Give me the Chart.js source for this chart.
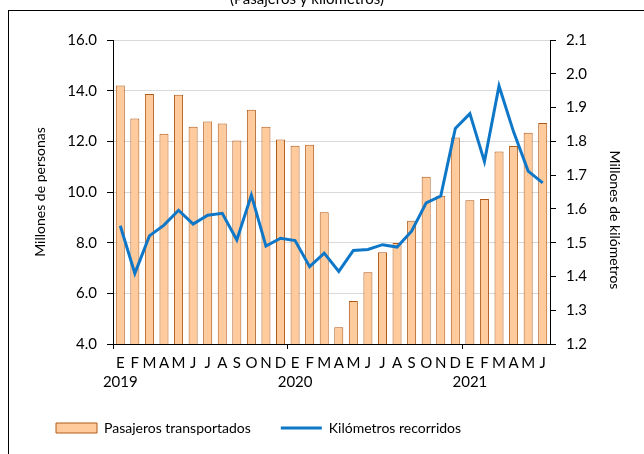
<!DOCTYPE html>
<html>
<head>
<meta charset="utf-8">
<script src="https://cdn.jsdelivr.net/npm/chart.js@4.4.1/dist/chart.umd.min.js"></script>
<style>
  html, body { margin: 0; padding: 0; background: #fff; overflow: hidden; }
  body { width: 644px; height: 454px; position: relative; }
  #frame { position: absolute; left: 8px; top: 10px; width: 700px; height: 500px; border: 1px solid #000; }
  #wrap { position: absolute; left: 0; top: 0; width: 644px; height: 445px; }
</style>
</head>
<body>
<div id="frame"></div>
<div id="wrap"><canvas id="chart"></canvas></div>
<script>
// Monthly series, January 2019 - June 2021
const monthInitials = ["E", "F", "M", "A", "M", "J", "J", "A", "S", "O", "N", "D"];
const years = ["2019", "2020", "2021"];

// Pasajeros transportados (millones de personas)
const passengers = [14.2, 12.9, 13.87, 12.3, 13.84, 12.58, 12.78, 12.7, 12.03, 13.25, 12.58, 12.07,
  11.83, 11.87, 9.2, 4.66, 5.7, 6.83, 7.62, 7.99, 8.87, 10.6, 9.85, 12.15,
  9.67, 9.72, 11.6, 11.82, 12.34, 12.72];

// Kilómetros recorridos (millones de kilómetros)
const kilometres = [1.55, 1.409, 1.52, 1.552, 1.596, 1.555, 1.581, 1.587, 1.508, 1.641, 1.49, 1.513,
  1.506, 1.429, 1.469, 1.415, 1.477, 1.48, 1.494, 1.487, 1.534, 1.618, 1.638, 1.838,
  1.882, 1.74, 1.964, 1.828, 1.712, 1.677];

const chartTitle = "(Pasajeros y kilómetros)";
const leftTitle = "Millones de personas";
const rightTitle = "Millones de kilómetros";

// two-line tick labels: month initial, year under each January
const categories = [];
years.forEach(function (y) {
  monthInitials.forEach(function (m, i) {
    categories.push([m, i === 0 ? y : ""]);
  });
});
const labels = categories.slice(0, passengers.length);

const FONT = "Lato";

// axis titles and the (cropped) chart title
const extraText = {
  id: "extraText",
  afterDraw(chart) {
    const ctx = chart.ctx;
    ctx.save();
    ctx.fillStyle = "#000";
    ctx.textAlign = "center";
    ctx.font = "15px " + FONT;
    ctx.textBaseline = "alphabetic";
    ctx.fillText(chartTitle, 307, 4);

    ctx.font = "14px " + FONT;
    ctx.textBaseline = "middle";
    ctx.save();
    ctx.translate(40, 192);
    ctx.rotate(-Math.PI / 2);
    ctx.fillText(leftTitle, 0, 0);
    ctx.restore();
    ctx.save();
    ctx.translate(615, 220);
    ctx.rotate(Math.PI / 2);
    ctx.fillText(rightTitle, 0, 0);
    ctx.restore();
    ctx.restore();
  },
};

const ctx = document.getElementById("chart").getContext("2d");

new Chart(ctx, {
  data: {
    labels: labels,
    datasets: [
      {
        type: "bar",
        label: "Pasajeros transportados",
        data: passengers,
        yAxisID: "y",
        backgroundColor: "#FFCA9C",
        borderColor: "#B05A18",
        borderWidth: 1,
        barPercentage: 0.62,
        categoryPercentage: 1,
        order: 1,
      },
      {
        type: "line",
        label: "Kilómetros recorridos",
        data: kilometres,
        yAxisID: "y1",
        borderColor: "#0F77C8",
        backgroundColor: "#0F77C8",
        borderWidth: 3,
        pointRadius: 0,
        tension: 0,
        order: 0,
      },
    ],
  },
  options: {
    responsive: true,
    maintainAspectRatio: false,
    animation: false,
    layout: { padding: { left: 26, right: 0, top: 40, bottom: 0 } },
    plugins: {
      tooltip: { enabled: false },
      legend: {
        position: "bottom",
        align: "start",
        labels: {
          usePointStyle: true,
          pointStyleWidth: 41,
          boxHeight: 10,
          padding: 30,
          color: "#000",
          font: { family: FONT, size: 14 },
          generateLabels: function (chart) {
            return chart.data.datasets.map(function (ds, i) {
              return {
                text: ds.label,
                datasetIndex: i,
                fillStyle: ds.backgroundColor,
                strokeStyle: ds.borderColor,
                lineWidth: ds.borderWidth,
                pointStyle: ds.type === "bar" ? "rect" : "line",
                fontColor: "#000",
                hidden: false,
              };
            });
          },
        },
      },
    },
    scales: {
      x: {
        type: "category",
        offset: true,
        grid: {
          offset: true,
          drawOnChartArea: false,
          tickLength: 5,
          tickColor: function (c) {
            return c.index % 12 === 0 ? "#000" : "rgba(0,0,0,0)";
          },
        },
        border: { color: "#000" },
        ticks: {
          autoSkip: false,
          maxRotation: 0,
          padding: 5,
          color: "#000",
          font: { family: FONT, size: 15, lineHeight: "19px" },
        },
        afterFit: function (s) { s.height = 47; },
      },
      y: {
        position: "left",
        min: 4,
        max: 16,
        ticks: {
          stepSize: 2,
          padding: 10,
          color: "#000",
          font: { family: FONT, size: 15 },
          callback: function (v) { return v.toFixed(1); },
        },
        grid: { color: "#d9d9d9", tickColor: "#000", tickLength: 6 },
        border: { color: "#000" },
        afterFit: function (s) { s.width = 87; },
      },
      y1: {
        position: "right",
        min: 1.2,
        max: 2.1,
        ticks: {
          stepSize: 0.1,
          padding: 10,
          color: "#000",
          font: { family: FONT, size: 15 },
          callback: function (v) { return v.toFixed(1); },
        },
        grid: { drawOnChartArea: false, tickColor: "#000", tickLength: 6 },
        border: { color: "#000" },
        afterFit: function (s) { s.width = 94; },
      },
    },
  },
  plugins: [extraText],
});
</script>
</body>
</html>
